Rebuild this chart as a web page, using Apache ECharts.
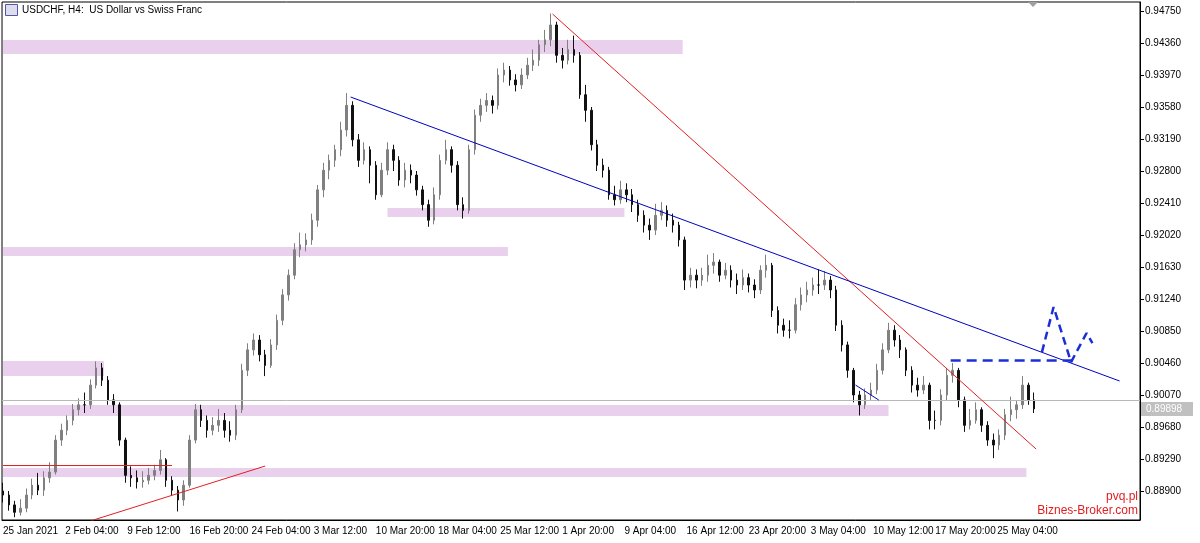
<!DOCTYPE html>
<html><head><meta charset="utf-8">
<script src="https://cdn.jsdelivr.net/npm/echarts@6/dist/echarts.min.js"></script>
<style>html,body{margin:0;padding:0;background:#fff}#c{width:1200px;height:543px}</style>
</head><body><div id="c"></div>
<script>
// 12-hour OHLC bars (open = previous close)
const firstOpen = 0.8890;
const closes = [.8885,.8873,.8864,.8869,.8885,.8897,.8891,.8906,.8913,.8952,.8964,.8976,.8989,.8995,.8995,.9019,.9040,.9025,.9001,.8995,
.8952,.8909,.8906,.8901,.8903,.8909,.8915,.8928,.8903,.8891,.8879,.8897,.8952,.8989,.8976,.8964,.8970,.8976,.8964,.8958,
.8989,.9037,.9062,.9074,.9056,.9043,.9068,.9098,.9129,.9153,.9184,.9190,.9196,.9220,.9257,.9281,.9293,.9306,.9330,.9360,
.9318,.9293,.9306,.9287,.9251,.9281,.9306,.9293,.9269,.9281,.9275,.9257,.9239,.9220,.9251,.9293,.9306,.9287,.9239,.9232,
.9306,.9348,.9360,.9366,.9360,.9397,.9403,.9391,.9385,.9397,.9409,.9415,.9434,.9440,.9458,.9421,.9415,.9428,.9421,.9373,
.9354,.9312,.9287,.9281,.9251,.9245,.9257,.9251,.9239,.9226,.9214,.9208,.9226,.9232,.9220,.9214,.9196,.9147,.9153,.9147,
.9153,.9165,.9169,.9153,.9159,.9147,.9141,.9150,.9141,.9135,.9159,.9165,.9110,.9092,.9086,.9086,.9117,.9129,.9135,.9141,
.9141,.9147,.9135,.9092,.9068,.9037,.9007,.8995,.9007,.9013,.9037,.9062,.9086,.9074,.9062,.9037,.9019,.9013,.9019,.8976,
.8976,.9007,.9031,.9037,.9001,.8970,.8976,.8989,.8970,.8952,.8946,.8958,.8983,.8989,.8995,.9019,.9001,.8990];
const highs = [.8900,.8890,.8878,.8880,.8893,.8905,.8912,.8914,.8925,.8958,.8972,.8982,.8996,.9003,.9010,.9026,.9048,.9046,.9030,.9008,
.8998,.8955,.8920,.8915,.8914,.8918,.8922,.8940,.8930,.8908,.8896,.8903,.8958,.8996,.8995,.8982,.8980,.8990,.8985,.8975,
.8995,.9045,.9070,.9082,.9080,.9062,.9075,.9105,.9136,.9160,.9192,.9205,.9204,.9228,.9263,.9290,.9300,.9312,.9340,.9375,
.9365,.9325,.9315,.9310,.9292,.9290,.9315,.9312,.9298,.9290,.9288,.9280,.9262,.9245,.9260,.9300,.9318,.9310,.9292,.9248,
.9312,.9355,.9368,.9375,.9372,.9405,.9412,.9408,.9398,.9405,.9418,.9428,.9440,.9452,.9472,.9462,.9430,.9440,.9445,.9425,
.9385,.9358,.9318,.9295,.9285,.9262,.9268,.9265,.9258,.9245,.9232,.9222,.9240,.9242,.9238,.9228,.9218,.9200,.9162,.9160,
.9162,.9178,.9180,.9172,.9168,.9165,.9155,.9160,.9155,.9148,.9165,.9178,.9168,.9115,.9100,.9098,.9125,.9138,.9145,.9150,
.9160,.9158,.9152,.9140,.9098,.9072,.9040,.9012,.9015,.9022,.9045,.9070,.9095,.9092,.9080,.9065,.9042,.9028,.9030,.9022,
.8988,.9014,.9040,.9046,.9040,.9005,.8990,.8998,.8992,.8975,.8960,.8965,.8990,.9005,.9000,.9030,.9022,.9010];
const lows = [.8876,.8866,.8858,.8860,.8864,.8880,.8885,.8884,.8900,.8910,.8945,.8958,.8970,.8982,.8985,.8990,.9015,.9018,.8995,.8985,
.8945,.8900,.8895,.8893,.8894,.8898,.8903,.8910,.8895,.8884,.8865,.8872,.8894,.8948,.8968,.8955,.8958,.8962,.8955,.8950,
.8952,.8985,.9030,.9055,.9048,.9030,.9040,.9062,.9092,.9122,.9148,.9175,.9182,.9190,.9212,.9248,.9270,.9285,.9298,.9322,
.9310,.9285,.9288,.9265,.9245,.9248,.9275,.9280,.9262,.9260,.9265,.9250,.9232,.9212,.9215,.9245,.9288,.9278,.9232,.9222,
.9228,.9300,.9340,.9352,.9350,.9355,.9388,.9384,.9377,.9380,.9392,.9402,.9408,.9425,.9432,.9412,.9405,.9410,.9412,.9368,
.9340,.9305,.9280,.9272,.9245,.9238,.9240,.9242,.9230,.9218,.9205,.9196,.9202,.9220,.9212,.9205,.9188,.9135,.9138,.9137,
.9140,.9145,.9155,.9145,.9148,.9138,.9130,.9135,.9132,.9125,.9130,.9150,.9102,.9082,.9078,.9076,.9082,.9110,.9120,.9128,
.9130,.9135,.9125,.9085,.9060,.9028,.8998,.8982,.8990,.9000,.9008,.9032,.9058,.9066,.9052,.9030,.9010,.9005,.9008,.8965,
.8965,.8970,.9000,.9022,.8992,.8962,.8965,.8972,.8962,.8945,.8930,.8940,.8952,.8975,.8978,.8990,.8995,.8985];
const tickLabels = ["25 Jan 2021","2 Feb 04:00","9 Feb 12:00","16 Feb 20:00","24 Feb 04:00","3 Mar 12:00","10 Mar 20:00","18 Mar 04:00","25 Mar 12:00","1 Apr 20:00","9 Apr 04:00","16 Apr 12:00","23 Apr 20:00","3 May 04:00","10 May 12:00","17 May 20:00","25 May 04:00"];
const priceTicks = [0.88900,0.89290,0.89680,0.90070,0.90460,0.90850,0.91240,0.91630,0.92020,0.92410,0.92800,0.93190,0.93580,0.93970,0.94360,0.94750];
const lastPrice = 0.89898;
// zones: [startSlot, endSlot, priceLow, priceHigh]
const zones = [[0,350,.94226,.94396],[198,320,.92239,.92349],[0,260,.91763,.91874],[0,52,.90301,.90484],[0,456,.89813,.89948],[0,527,.89070,.89179]];
// trend lines: [[slot,price],[slot,price]]
const redLines = [[[0,.8921],[87,.8921]],[[45,.88534],[135,.89204]],[[283,.94713],[532,.89411]]];
const blueLines = [[[179,.93702],[575,.90240]],[[439,.90191],[451,.90008]]];
const dashedPath = [[488,.9049],[551,.9049]];
const dashedWave = [[535,.90593],[541,.91142],[550,.90471],[558,.90825],[561,.90703]];

const SLOTS = 586, STEP = 3;
const cats = [], candle = [];
for (let i = 0; i < SLOTS; i++) { cats.push(''); candle.push('-'); }
tickLabels.forEach((t, k) => { if (k * 32 < SLOTS) cats[k * 32] = t; });
closes.forEach((c, k) => {
  const o = k === 0 ? firstOpen : closes[k - 1];
  candle[k * STEP] = [o, c, lows[k], highs[k]];
});
const showTick = (i) => i % 32 === 0 && cats[i] !== '';

const series = [{
  type: 'candlestick', data: candle, barWidth: 2,
  itemStyle: { color: '#808080', color0: '#111', borderColor: '#808080', borderColor0: '#111', borderWidth: 1 },
  markArea: { silent: true, itemStyle: { color: 'rgba(226,192,230,0.75)' },
    data: zones.map(z => [{ coord: [z[0], z[3]] }, { coord: [z[1], z[2]] }]) },
  markLine: { silent: true, symbol: 'none', label: { show: false },
    lineStyle: { color: '#b8b8b8', width: 1, type: 'solid' }, data: [{ yAxis: lastPrice }] },
  z: 3
}];
redLines.forEach(l => series.push({ type: 'line', data: l, symbol: 'none', lineStyle: { color: '#e02020', width: 1 }, itemStyle: { color: '#e02020' }, z: 6, silent: true }));
blueLines.forEach(l => series.push({ type: 'line', data: l, symbol: 'none', lineStyle: { color: '#0000c0', width: 1 }, itemStyle: { color: '#0000c0' }, z: 6, silent: true }));
series.push({ type: 'line', data: dashedPath, symbol: 'none', lineStyle: { color: '#1a2fd8', width: 2.5, type: [10, 6] }, z: 7 });
series.push({ type: 'line', data: dashedWave, symbol: 'none', lineStyle: { color: '#1a2fd8', width: 2.5, type: [8, 5] }, z: 7 });

const chart = echarts.init(document.getElementById('c'));
chart.setOption({
  animation: false,
  grid: { left: 2, right: 60, top: 2, bottom: 23, show: true, borderColor: '#000', borderWidth: 1 },
  xAxis: { type: 'category', data: cats, boundaryGap: true,
    axisLine: { lineStyle: { color: '#000' } },
    axisTick: { interval: showTick, length: 4, lineStyle: { color: '#000' } },
    axisLabel: { interval: showTick, align: 'left', margin: 6, fontSize: 10, color: '#000', fontFamily: 'Liberation Sans' },
    splitLine: { show: false } },
  yAxis: { type: 'value', position: 'right', min: 0.88546, max: 0.94860, scale: true,
    axisLine: { show: true, lineStyle: { color: '#000' } },
    axisTick: { show: true, length: 4, customValues: priceTicks, lineStyle: { color: '#000' } },
    axisLabel: { customValues: priceTicks, formatter: v => v.toFixed(5), fontSize: 10, color: '#000', fontFamily: 'Liberation Sans', margin: 5 },
    splitLine: { show: false } },
  series: series,
  graphic: [
    { type: 'rect', left: 5, top: 4, shape: { width: 12, height: 11 }, style: { fill: '#dde', stroke: '#55a', lineWidth: 1 } },
    { type: 'text', left: 22, top: 5, style: { text: 'USDCHF, H4:  US Dollar vs Swiss Franc', font: '10px "Liberation Sans"', fill: '#000' } },
    { type: 'polygon', shape: { points: [[1028, 2], [1038, 2], [1033, 7]] }, style: { fill: '#a0a0a0' } },
    { type: 'text', right: 62, top: 491, style: { text: 'pvq.pl', font: '12px "Liberation Sans"', fill: '#e02020', align: 'right' } },
    { type: 'text', right: 62, top: 505, style: { text: 'Biznes-Broker.com', font: '12px "Liberation Sans"', fill: '#e02020', align: 'right' } },
    { type: 'rect', left: 1141, top: 402, shape: { width: 52, height: 14 }, style: { fill: '#c0c0c0' } },
    { type: 'text', left: 1146, top: 404, style: { text: lastPrice.toFixed(5), font: '10px "Liberation Sans"', fill: '#fff' } }
  ]
});
</script></body></html>
